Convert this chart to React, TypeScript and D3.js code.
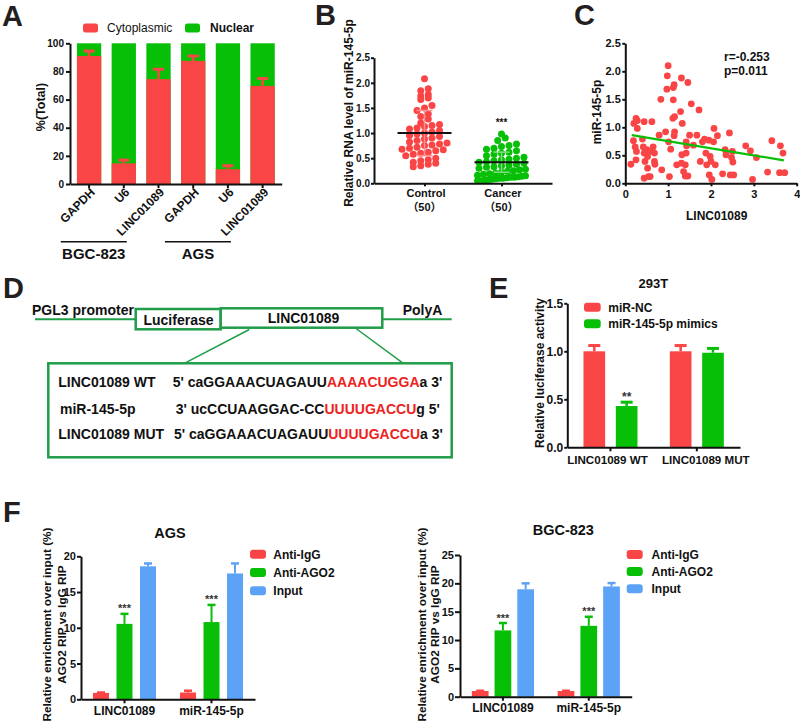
import React, { useEffect, useRef } from 'react';
import * as d3 from 'd3';

const FONT = '"Liberation Sans", Arial, "Noto Sans CJK SC", sans-serif';
const RED = '#f94545';
const GREEN = '#08bf08';
const BLUE = '#5ca3f7';
const LIGHTRED = '#ff9090';
const LIGHTGREEN = '#80dc80';
const LINEGREEN = '#1f9d49';
const INK = '#111111';
const LETTER = '#231f20';

// ---------- Panel A ----------
const aLabels = ['GAPDH', 'U6', 'LINC01089', 'GAPDH', 'U6', 'LINC01089'];
const aCytoplasmic = [91, 14.7, 74.5, 87.5, 10.5, 69.7];
const aCytoplasmicErr = [94.5, 17, 81.5, 91, 13, 75];
const aCellLines = ['BGC-823', 'AGS'];
const aTicks = [0, 20, 40, 60, 80, 100];
const aLegend = ['Cytoplasmic', 'Nuclear'];

// ---------- Panel B ----------
const bGroups = ['Control', 'Cancer'];
const bCounts = ['（50）', '（50）'];
const bControl = [2.08, 1.88, 1.84, 1.77, 1.74, 1.70, 1.67, 1.55, 1.50, 1.45, 1.38, 1.33, 1.28, 1.20, 1.17, 1.15, 1.13, 1.10, 1.08, 1.05,
  1.02, 1.00, 0.98, 0.95, 0.93, 0.90, 0.88, 0.85, 0.82, 0.80, 0.78, 0.76, 0.75, 0.72, 0.70, 0.68, 0.67, 0.65, 0.62, 0.60,
  0.58, 0.55, 0.50, 0.47, 0.45, 0.42, 0.40, 0.38, 0.35, 0.33];
const bCancer = [0.98, 0.90, 0.85, 0.78, 0.75, 0.73, 0.70, 0.68, 0.65, 0.62, 0.60, 0.58, 0.55, 0.52, 0.50, 0.48, 0.47, 0.45, 0.43, 0.42,
  0.40, 0.38, 0.36, 0.35, 0.33, 0.32, 0.30, 0.28, 0.27, 0.25, 0.24, 0.22, 0.20, 0.19, 0.18, 0.16, 0.15, 0.14, 0.13, 0.12,
  0.12, 0.11, 0.10, 0.10, 0.09, 0.08, 0.07, 0.06, 0.05, 0.05];
const bMean = [1.0, 0.42];
const bSD = [0.45, 0.2];
const bTicks = [0, 0.5, 1.0, 1.5, 2.0, 2.5];

// ---------- Panel C ----------
const cLinc = [0.13, 0.19, 0.2, 0.25, 0.28, 0.28, 0.23, 0.26, 0.25, 0.44, 0.4, 0.42, 0.44, 0.46, 0.44, 0.5, 0.52, 0.52, 0.54, 0.59,
  0.62, 0.65, 0.68, 0.68, 0.69, 0.58, 0.79, 0.85, 0.83, 0.94, 0.97, 0.98, 1.0, 1.01, 1.03, 1.06, 1.12, 1.12, 1.14, 1.11,
  1.15, 1.15, 1.14, 1.2, 1.29, 1.31, 1.33, 1.32, 1.31, 1.36, 1.4, 1.42, 1.43, 1.42, 1.4, 1.46, 1.46, 1.5, 1.54, 1.59,
  1.67, 1.72, 1.75, 1.8, 1.85, 1.88, 1.9, 1.95, 1.98, 2.0, 1.96, 2.02, 2.07, 2.06, 2.1, 2.15, 2.27, 2.33, 2.35, 2.43,
  2.45, 2.5, 2.51, 2.53, 2.48, 2.81, 2.92, 2.97, 3.06, 3.32, 3.42, 3.62, 3.68, 3.6, 3.72];
const cMir = [0.34, 0.76, 1.07, 1.16, 1.12, 0.98, 0.65, 0.57, 0.42, 1.1, 0.79, 0.65, 0.54, 0.39, 0.09, 0.6, 0.48, 0.27, 0.12, 0.57,
  1.1, 0.65, 0.54, 0.39, 0.34, 0.12, 0.86, 0.24, 1.5, 0.92, 1.68, 1.92, 2.1, 0.74, 0.12, 0.61, 1.49, 1.71, 1.76, 1.16,
  1.19, 0.92, 0.85, 0.33, 1.28, 1.88, 1.07, 0.51, 0.36, 0.21, 0.13, 0.74, 0.67, 0.54, 0.33, 1.8, 0.13, 0.86, 1.42, 0.68,
  0.86, 1.31, 0.39, 0.74, 0.79, 0.54, 0.33, 0.77, 0.48, 0.39, 0.15, 0.07, 0.98, 0.74, 0.33, 0.85, 0.17, 0.6, 0.51, 0.9,
  0.15, 0.57, 0.38, 0.15, 0.46, 0.67, 0.58, 0.07, 0.46, 0.2, 0.76, 0.67, 0.54, 0.19, 0.19];
const cFitX = [0.15, 3.7];
const cFitY = [0.86, 0.41];
const cXTicks = [0, 1, 2, 3, 4];
const cYTicks = [0, 0.5, 1.0, 1.5, 2.0, 2.5];
const cStats = ['r=-0.253', 'p=0.011'];

// ---------- Panel E ----------
const eGroups = ['LINC01089 WT', 'LINC01089 MUT'];
const eSeries = ['miR-NC', 'miR-145-5p mimics'];
const eValues = [[1.0, 1.0], [0.43, 0.985]];
const eErrors = [[1.06, 1.06], [0.47, 1.03]];
const eSignif = [['', ''], ['**', '']];
const eTicks = [0, 0.5, 1.0, 1.5];

// ---------- Panel F ----------
const fGroups = ['LINC01089', 'miR-145-5p'];
const fSeries = ['Anti-IgG', 'Anti-AGO2', 'Input'];
const fAgsValues = [[0.9, 0.95], [10.55, 10.8], [18.6, 17.6]];
const fAgsErrors = [[0.95, 1.2], [11.95, 13.2], [19.0, 19.0]];
const fBgcValues = [[1.0, 1.0], [11.7, 12.5], [18.95, 19.45]];
const fBgcErrors = [[1.05, 1.05], [13.0, 14.1], [20.0, 20.05]];
const fSignif = [['', ''], ['***', '***'], ['', '']];
const fAgsTicks = [0, 5, 10, 15, 20];
const fBgcTicks = [0, 5, 10, 15, 20, 25];

type AxisProps = {
  orient: 'left' | 'bottom';
  scale: any;
  tx?: number;
  ty?: number;
  tickValues?: any[];
  tickFormat?: (d: any) => string;
  fontSize?: number;
  tickSize?: number;
  pad?: number;
  hideLabels?: boolean;
};

function Axis({ orient, scale, tx = 0, ty = 0, tickValues, tickFormat, fontSize = 12, tickSize = 4, pad = 2, hideLabels }: AxisProps) {
  const ref = useRef<SVGGElement>(null);
  useEffect(() => {
    if (!ref.current) return;
    const g = d3.select(ref.current);
    g.selectAll('*').remove();
    const ax: any = orient === 'left' ? d3.axisLeft(scale) : d3.axisBottom(scale);
    ax.tickSizeOuter(0).tickSizeInner(tickSize).tickPadding(pad);
    if (tickValues) ax.tickValues(tickValues);
    if (tickFormat) ax.tickFormat(tickFormat);
    g.call(ax);
    g.attr('font-family', FONT);
    g.select('.domain').attr('stroke', INK).attr('stroke-width', 2);
    g.selectAll('.tick line').attr('stroke', INK).attr('stroke-width', 2);
    g.selectAll('.tick text')
      .attr('font-family', FONT)
      .attr('font-weight', 'bold')
      .attr('font-size', fontSize)
      .attr('fill', INK);
    if (hideLabels) g.selectAll('.tick text').remove();
  });
  return <g ref={ref} transform={`translate(${tx},${ty})`} />;
}

function Letter({ x, y, t }: { x: number; y: number; t: string }) {
  return (
    <text x={x} y={y} fontSize={29} fontWeight="bold" fill={LETTER}>
      {t}
    </text>
  );
}

function PanelA() {
  const x = d3.scaleBand<number>().domain(d3.range(aLabels.length)).range([70, 281.7]).paddingInner(0.3).paddingOuter(0.2);
  const y = d3.scaleLinear().domain([0, 100]).range([184, 43.3]);
  const bw = x.bandwidth();
  return (
    <g>
      <Letter x={2} y={26} t="A" />
      <rect x={83} y={23.5} width={15} height={9} rx={2.5} fill={RED} />
      <text x={107} y={31.8} fontSize={12} fill={INK}>{aLegend[0]}</text>
      <rect x={185} y={23.5} width={15} height={9} rx={2.5} fill={GREEN} />
      <text x={210} y={31.8} fontSize={12} fontWeight="bold" fill={INK}>{aLegend[1]}</text>
      {aLabels.map((lab, i) => {
        const x0 = x(i)!;
        const cx = x0 + bw / 2;
        const v = aCytoplasmic[i];
        const e = aCytoplasmicErr[i];
        return (
          <g key={i}>
            <rect x={x0} y={y(100)} width={bw} height={y(0) - y(100)} fill={GREEN} />
            <rect x={x0} y={y(v)} width={bw} height={y(0) - y(v)} fill={RED} />
            <line x1={cx} x2={cx} y1={y(v)} y2={y(e)} stroke={RED} strokeWidth={2.5} />
            <line x1={cx - 5.5} x2={cx + 5.5} y1={y(e)} y2={y(e)} stroke={RED} strokeWidth={3} />
            <text transform={`translate(${cx + 6.5},${193}) rotate(-45)`} textAnchor="end" fontSize={12} fontWeight="bold" fill={INK}>
              {lab}
            </text>
          </g>
        );
      })}
      <Axis orient="left" scale={y} tx={70} tickValues={aTicks} fontSize={10} tickSize={4} pad={2} />
      <Axis orient="bottom" scale={x} ty={184} tickSize={4} hideLabels />
      {aCellLines.map((name, g) => {
        const mid = x(g * 3 + 1)! + bw / 2;
        return (
          <g key={name}>
            <line x1={mid - 63} x2={mid + 3} y1={241.7} y2={241.7} stroke={INK} strokeWidth={1.5} />
            <text x={mid - 30} y={258.5} textAnchor="middle" fontSize={15} fontWeight="bold" fill={INK}>{name}</text>
          </g>
        );
      })}
      <text transform="translate(44.5,107) rotate(-90)" textAnchor="middle" fontSize={12.5} fontWeight="bold" fill={INK}>%(Total)</text>
    </g>
  );
}

// Row-based scatter layout (like GraphPad): points whose pixel rows fall in the same bin are spread side by side.
function rowLayout(values: number[], y: (v: number) => number, binH: number, dot: number, half: number): number[] {
  const out = new Array(values.length).fill(0);
  const bins = d3.group(values.map((_, i) => i), (i) => Math.floor(y(values[i]) / binH));
  for (const members of bins.values()) {
    const m = members.slice().sort((a, b) => values[a] - values[b]);
    const n = m.length;
    const s = n > 1 ? Math.min(dot, (2 * half) / (n - 1)) : 0;
    m.forEach((idx, j) => {
      out[idx] = (j - (n - 1) / 2) * s;
    });
  }
  return out;
}

function PanelB() {
  const x = d3.scalePoint<string>().domain(bGroups).range([374, 552]).padding(0.656);
  const y = d3.scaleLinear().domain([0, 2.5]).range([183.3, 57.7]);
  const sets = [bControl, bCancer];
  const colors = [RED, GREEN];
  const sdColors = [LIGHTRED, LIGHTGREEN];
  const halfSpread = [26, 24];
  return (
    <g>
      <Letter x={315} y={25} t="B" />
      {sets.map((vals, g) => {
        const offs = rowLayout(vals, y, 6.5, 7.5, halfSpread[g]);
        const cx = x(bGroups[g])!;
        return (
          <g key={g}>
            {vals.map((v, i) => (
              <circle key={i} cx={cx + offs[i]} cy={y(v)} r={3.5} fill={colors[g]} />
            ))}
          </g>
        );
      })}
      {bGroups.map((name, g) => {
        const cx = x(name)!;
        const hi = y(bMean[g] + bSD[g]);
        const lo = y(bMean[g] - bSD[g]);
        return (
          <g key={name}>
            <line x1={cx} x2={cx} y1={hi} y2={lo} stroke={sdColors[g]} strokeWidth={1.5} />
            <line x1={cx - 8} x2={cx + 8} y1={hi} y2={hi} stroke={sdColors[g]} strokeWidth={1.5} />
            <line x1={cx - 8} x2={cx + 8} y1={lo} y2={lo} stroke={sdColors[g]} strokeWidth={1.5} />
            <line x1={cx - 27} x2={cx + 27} y1={y(bMean[g])} y2={y(bMean[g])} stroke={INK} strokeWidth={2} />
            <text x={cx + 1.5} y={197} textAnchor="middle" fontSize={11} fontWeight="bold" fill={INK}>{name}</text>
            <text x={cx} y={211} textAnchor="middle" fontSize={11} fontWeight="bold" fill={INK}>{bCounts[g]}</text>
          </g>
        );
      })}
      <text x={x('Cancer')!} y={y(1.14)} textAnchor="middle" fontSize={10} fontWeight="bold" fill={INK}>***</text>
      <Axis orient="left" scale={y} tx={374} tickValues={bTicks} tickFormat={d3.format('.1f')} fontSize={10} tickSize={3} pad={1} />
      <Axis orient="bottom" scale={x} ty={183.3} tickSize={3} hideLabels />
      <text transform="translate(353,113) rotate(-90)" textAnchor="middle" fontSize={12} fontWeight="bold" fill={INK}>
        Relative RNA level of miR-145-5p
      </text>
    </g>
  );
}

function PanelC() {
  const x = d3.scaleLinear().domain([0, 4]).range([625.3, 796.7]);
  const y = d3.scaleLinear().domain([0, 2.5]).range([183.3, 43.3]);
  const line = d3.line<number>().x((_, i) => x(cFitX[i])).y((_, i) => y(cFitY[i]));
  return (
    <g>
      <Letter x={574} y={25} t="C" />
      {cLinc.map((v, i) => (
        <circle key={i} cx={x(v)} cy={y(cMir[i])} r={3.4} fill={RED} />
      ))}
      <path d={line(cFitX)!} stroke={GREEN} strokeWidth={2.2} fill="none" />
      <Axis orient="left" scale={y} tx={625.3} tickValues={cYTicks} tickFormat={d3.format('.1f')} fontSize={11} tickSize={3} pad={1.5} />
      <Axis orient="bottom" scale={x} ty={183.3} tickValues={cXTicks} tickFormat={d3.format('d')} fontSize={11} tickSize={3} pad={4} />
      <text x={716.7} y={220} textAnchor="middle" fontSize={12} fontWeight="bold" fill={INK}>LINC01089</text>
      <text transform="translate(601,112) rotate(-90)" textAnchor="middle" fontSize={12} fontWeight="bold" fill={INK}>miR-145-5p</text>
      <text x={724} y={61} fontSize={12} fontWeight="bold" fill={INK}>{cStats[0]}</text>
      <text x={724} y={75} fontSize={12} fontWeight="bold" fill={INK}>{cStats[1]}</text>
    </g>
  );
}

function PanelD() {
  const fs = 14;
  return (
    <g fontWeight="bold" fill={INK} fontSize={fs}>
      <Letter x={3} y={298} t="D" />
      <line x1={35} x2={451.7} y1={319.3} y2={319.3} stroke={LINEGREEN} strokeWidth={2} />
      <rect x={135.7} y={309} width={85} height={20.3} fill="#fff" stroke={LINEGREEN} strokeWidth={2.5} />
      <rect x={220.7} y={308.3} width={161.6} height={19.4} fill="#fff" stroke={LINEGREEN} strokeWidth={2.5} />
      <text x={32} y={315}>PGL3 promoter</text>
      <text x={178.5} y={325} textAnchor="middle">Luciferase</text>
      <text x={303.5} y={323.3} textAnchor="middle">LINC01089</text>
      <text x={402.7} y={315}>PolyA</text>
      <line x1={249.3} y1={329.5} x2={184.3} y2={363.3} stroke={LINEGREEN} strokeWidth={1.5} />
      <line x1={356} y1={328.5} x2={403.3} y2={363.3} stroke={LINEGREEN} strokeWidth={1.5} />
      <rect x={48.3} y={363.3} width={403.4} height={94} fill="#fff" stroke={LINEGREEN} strokeWidth={2.5} />
      <text x={58.3} y={387.3}>LINC01089 WT</text>
      <text x={172.7} y={387.3}>
        5' caGGAAACUAGAUU<tspan fill="#ee2222">AAAACUGGA</tspan>a 3'
      </text>
      <text x={60} y={413.5}>miR-145-5p</text>
      <text x={175.7} y={413.5}>
        3' ucCCUAAGGAC-CC<tspan fill="#ee2222">UUUUGACCU</tspan>g 5'
      </text>
      <text x={58.3} y={439.3}>LINC01089 MUT</text>
      <text x={174} y={439.3}>
        5' caGGAAACUAGAUU<tspan fill="#ee2222">UUUUGACCU</tspan>a 3'
      </text>
    </g>
  );
}

type GBProps = {
  groups: string[];
  series: string[];
  values: number[][];
  errors: number[][];
  signif: string[][];
  colors: string[];
  x0: d3.ScaleBand<string>;
  x1: d3.ScaleBand<string>;
  y: d3.ScaleLinear<number, number>;
  capW: number;
  errW: number;
  starSize: number;
};

function GroupedBars({ groups, series, values, errors, signif, colors, x0, x1, y, capW, errW, starSize }: GBProps) {
  const bw = x1.bandwidth();
  return (
    <g>
      {groups.map((gname, gi) => (
        <g key={gname} transform={`translate(${x0(gname)},0)`}>
          {series.map((s, si) => {
            const v = values[si][gi];
            const e = errors[si][gi];
            const bx = x1(s)!;
            const cx = bx + bw / 2;
            return (
              <g key={s}>
                <rect x={bx} y={y(v)} width={bw} height={y(0) - y(v)} fill={colors[si]} />
                {e > v && (
                  <>
                    <line x1={cx} x2={cx} y1={y(v)} y2={y(e)} stroke={colors[si]} strokeWidth={errW} />
                    <line x1={cx - capW / 2} x2={cx + capW / 2} y1={y(e)} y2={y(e)} stroke={colors[si]} strokeWidth={errW + 0.5} />
                  </>
                )}
                {signif[si][gi] && (
                  <text x={cx} y={y(e) - 1.5} textAnchor="middle" fontSize={starSize} fontWeight="bold" fill="#333">
                    {signif[si][gi]}
                  </text>
                )}
              </g>
            );
          })}
        </g>
      ))}
    </g>
  );
}

function PanelE() {
  const x0 = d3.scaleBand<string>().domain(eGroups).range([567.3, 740]).padding(0);
  const x1 = d3.scaleBand<string>().domain(eSeries).range([0, x0.bandwidth()]).paddingInner(0.33).paddingOuter(0.5);
  const y = d3.scaleLinear().domain([0, 1.5]).range([447.3, 303.3]);
  const colors = [RED, GREEN];
  const labelShift = [-3, 9];
  return (
    <g>
      <Letter x={489} y={298} t="E" />
      <text x={653.3} y={287.5} textAnchor="middle" fontSize={13} fontWeight="bold" fill={INK}>293T</text>
      {eSeries.map((s, i) => (
        <g key={s}>
          <rect x={584} y={302.7 + i * 16.6} width={16.7} height={9} rx={3} fill={colors[i]} />
          <text x={608.3} y={311.5 + i * 16.6} fontSize={12} fontWeight="bold" fill={INK}>{s}</text>
        </g>
      ))}
      <GroupedBars groups={eGroups} series={eSeries} values={eValues} errors={eErrors} signif={eSignif} colors={colors}
        x0={x0} x1={x1} y={y} capW={12} errW={2.5} starSize={12} />
      <Axis orient="left" scale={y} tx={567.3} tickValues={eTicks} tickFormat={d3.format('.1f')} fontSize={12} tickSize={3} pad={1} />
      <Axis orient="bottom" scale={x0} ty={447.3} tickSize={4} hideLabels />
      {eGroups.map((g, i) => (
        <text key={g} x={x0(g)! + x0.bandwidth() / 2 + labelShift[i]} y={464} textAnchor="middle" fontSize={11.6} fontWeight="bold" fill={INK}>
          {g}
        </text>
      ))}
      <text transform="translate(543.5,373) rotate(-90)" textAnchor="middle" fontSize={12} fontWeight="bold" fill={INK}>
        Relative luciferase activity
      </text>
    </g>
  );
}

type FProps = {
  title: string;
  titleX: number;
  titleY: number;
  values: number[][];
  errors: number[][];
  axisX: number;
  axisEnd: number;
  yBottom: number;
  yTop: number;
  yMax: number;
  ticks: number[];
  legendX: number;
  legendYs: number[];
  legendTextX: number;
  titleLineXs: number[];
  titleCenterY: number;
  tickSize: number;
  paddingInner: number;
  paddingOuter: number;
};

function PanelFChart(p: FProps) {
  const x0 = d3.scaleBand<string>().domain(fGroups).range([p.axisX, p.axisEnd]).padding(0);
  const x1 = d3.scaleBand<string>().domain(fSeries).range([0, x0.bandwidth()]).paddingInner(p.paddingInner).paddingOuter(p.paddingOuter);
  const y = d3.scaleLinear().domain([0, p.yMax]).range([p.yBottom, p.yTop]);
  const colors = [RED, GREEN, BLUE];
  return (
    <g>
      <text x={p.titleX} y={p.titleY} textAnchor="middle" fontSize={14.5} fontWeight="bold" fill={INK}>{p.title}</text>
      {fSeries.map((s, i) => (
        <g key={s}>
          <rect x={p.legendX} y={p.legendYs[i] - 4.5} width={16} height={9} rx={3} fill={colors[i]} />
          <text x={p.legendTextX} y={p.legendYs[i] + 4.3} fontSize={12} fontWeight="bold" fill={INK}>{s}</text>
        </g>
      ))}
      <GroupedBars groups={fGroups} series={fSeries} values={p.values} errors={p.errors} signif={fSignif} colors={colors}
        x0={x0} x1={x1} y={y} capW={8} errW={2} starSize={11} />
      <Axis orient="left" scale={y} tx={p.axisX} tickValues={p.ticks} tickFormat={d3.format('d')} fontSize={11} tickSize={p.tickSize} pad={1} />
      <Axis orient="bottom" scale={x0} ty={p.yBottom} fontSize={12} tickSize={4} pad={3} />
      <text transform={`translate(${p.titleLineXs[0]},${p.titleCenterY}) rotate(-90)`} textAnchor="middle" fontSize={11.8} fontWeight="bold" fill={INK}>
        Relative enrichment over input (%)
      </text>
      <text transform={`translate(${p.titleLineXs[1]},${p.titleCenterY}) rotate(-90)`} textAnchor="middle" fontSize={11.8} fontWeight="bold" fill={INK}>
        AGO2 RIP vs IgG RIP
      </text>
    </g>
  );
}

function PanelF() {
  return (
    <g>
      <Letter x={3} y={521.7} t="F" />
      <PanelFChart title="AGS" titleX={170} titleY={537.5} values={fAgsValues} errors={fAgsErrors}
        axisX={81} axisEnd={255} yBottom={699.3} yTop={556.3} yMax={20} ticks={fAgsTicks}
        legendX={250} legendYs={[554.2, 572.5, 590.8]} legendTextX={273.3}
        titleLineXs={[51, 65.5]} titleCenterY={624.5} tickSize={4}
        paddingInner={0.32} paddingOuter={0.51} />
      <PanelFChart title="BGC-823" titleX={563.3} titleY={535} values={fBgcValues} errors={fBgcErrors}
        axisX={460} axisEnd={631.7} yBottom={696.7} yTop={555} yMax={25} ticks={fBgcTicks}
        legendX={626.7} legendYs={[554.5, 571.5, 588.7]} legendTextX={651.5}
        titleLineXs={[426, 439.3]} titleCenterY={624.5} tickSize={5}
        paddingInner={0.264} paddingOuter={0.52} />
    </g>
  );
}

export default function App() {
  return (
    <svg width={800} height={725} viewBox="0 0 800 725" fontFamily={FONT}
      style={{ position: 'absolute', left: 0, top: 0, background: '#fff' }}>
      <rect width={800} height={725} fill="#fff" />
      <PanelA />
      <PanelB />
      <PanelC />
      <PanelD />
      <PanelE />
      <PanelF />
    </svg>
  );
}
